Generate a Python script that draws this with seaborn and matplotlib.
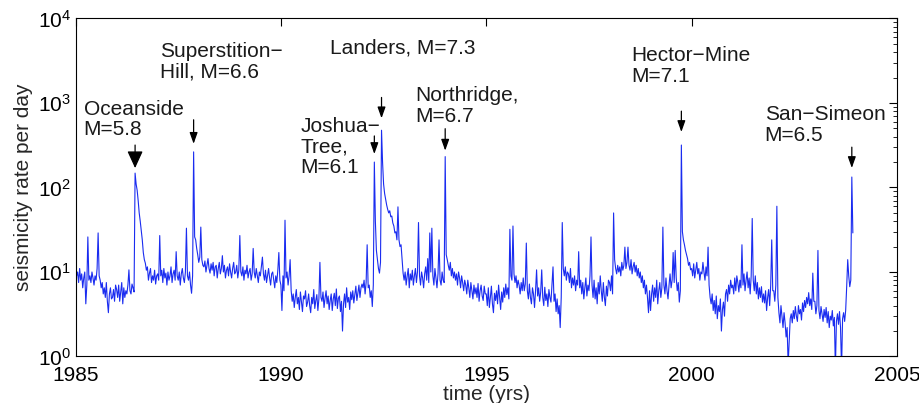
import numpy as np
import pandas as pd
import matplotlib
matplotlib.use("Agg")
import matplotlib.pyplot as plt
import seaborn as sns
from matplotlib.ticker import LogLocator, NullLocator

# ---- data (0.025-yr steps from 1985.000) ----
rate = [
    # 1985
    14, 9, 10, 7.5, 11, 8, 9.5, 6.5, 8.5, 10,
    4.2, 7, 26, 8, 9, 7.5, 10, 8.5, 7, 9,
    8, 11, 29, 9, 8, 6.5, 7.5, 5.5, 6.5, 5,
    7.5, 4.5, 3.3, 5.5, 6.5, 4.8, 5, 6.2, 4.5, 7,
    # 1986
    6.2, 5, 7, 4.5, 5.8, 7.5, 4.2, 6.5, 5, 6,
    5.5, 7, 10.6, 6, 5.5, 7.2, 6.5, 5.8, 148, 110,
    93, 70, 50, 40, 31, 24, 17, 14, 12.7, 10.5,
    11.5, 8, 9.7, 11, 7.5, 9, 8, 10.5, 7.2, 9,
    # 1987
    9.5, 8, 27, 9, 10.5, 7.5, 11, 8.5, 9.7, 7,
    10, 8, 9, 11.5, 7.5, 9.5, 10.5, 8, 17.4, 9,
    8, 10, 7, 9.5, 11, 8.5, 7.5, 10, 33, 9,
    8, 10, 7, 5.6, 9, 264, 26, 24, 19, 16,
    # 1988
    13, 15, 34, 14, 12, 11.5, 13.5, 10, 12, 14.4,
    11, 9.7, 12.5, 10.5, 13, 9, 11.5, 12, 8.5, 11,
    13, 9.5, 11, 15.6, 10, 12, 8.5, 10.5, 11.5, 9,
    12.5, 10, 8.5, 11, 13, 9.5, 10, 12, 8.5, 10.5,
    # 1989
    27, 10, 9, 11.5, 8, 10.5, 9.5, 12, 8.5, 10,
    11, 8, 9.5, 19, 10, 8.5, 11, 9, 7.5, 10,
    9, 11.5, 15, 9.5, 8, 10.5, 7.5, 9, 11, 8.5,
    7, 9.5, 10, 8, 6.5, 9, 7.5, 10.5, 17, 8,
    # 1990
    7, 3.5, 9, 6, 41, 8.5, 10, 7, 9, 14,
    6, 4.5, 5.5, 3.8, 5, 6.2, 4.2, 5, 3.6, 5.8,
    4.5, 3.4, 5.2, 4.8, 6, 3.9, 4.4, 5.5, 4, 3.3,
    5, 4.2, 6.2, 3.7, 4.6, 5.4, 3.5, 4.8, 13, 5,
    # 1991
    4.5, 5.8, 3.8, 4.9, 6, 4.2, 5.2, 3.6, 4.6, 5.5,
    3.5, 4.8, 5.6, 4, 6.3, 3.7, 4.9, 5.2, 3.4, 4.5,
    2.0, 4.2, 5.5, 3.8, 6.5, 4.4, 5, 3.6, 5.8, 4.7,
    6, 4.3, 5.4, 6.8, 4.6, 5.7, 7, 5, 6.5, 7.2,
    # 1992
    6.5, 8, 5.5, 7.5, 21, 6.5, 7, 5, 6, 3.9,
    7, 200, 40, 18, 14, 11, 9.7, 13, 476, 200,
    110, 85, 72, 62, 55, 50, 53, 45, 46, 38,
    35, 29, 30, 24, 59, 24, 20, 21, 14, 9.7,
    # 1993
    8, 10, 7, 9, 11, 6.5, 9.5, 8, 10.5, 7,
    9, 11, 7.5, 10, 38.5, 9, 7, 10, 8.5, 6.5,
    9.5, 11.5, 8, 14.4, 7.5, 29, 10, 33, 9, 7,
    11, 8.5, 6.5, 9.5, 24, 8, 7, 10, 8, 7.5,
    # 1994
    232, 16, 14, 12, 10.5, 13, 9, 11, 8.5, 10,
    8, 9.5, 7, 10, 8.5, 6.5, 9, 7.5, 6, 8,
    7, 5.5, 8, 6.5, 5, 7.5, 6, 4.8, 7, 5.5,
    6.5, 5, 7.3, 4.5, 6, 7, 5.2, 4.6, 6.8, 5.5,
    # 1995
    5.5, 4, 6.5, 3.8, 5, 6.8, 4.2, 3.3, 5.6, 4.6,
    6, 4.2, 7, 5, 3.6, 5.8, 4.4, 6.5, 5, 7.2,
    5.4, 6.5, 4.8, 32, 9, 8, 35, 9.5, 7.5, 9,
    6.5, 8, 7, 5.5, 7.5, 6, 8.5, 6, 7.2, 22,
    # 1996
    6, 4.8, 7.2, 5, 4.2, 6.5, 5.5, 3.8, 6, 10.6,
    5.2, 6.5, 4.5, 5.8, 10.6, 5, 4, 6.6, 4.6, 5.5,
    3.9, 6.2, 5, 4.4, 7, 11.5, 4.5, 5.5, 3.4, 4.8,
    3.2, 4, 2.2, 5, 38.5, 11, 9, 11.5, 8, 10,
    # 1997
    9.5, 7.5, 11, 6.5, 8.5, 7, 9, 6, 8, 7,
    17.4, 6.5, 8, 5.5, 7.5, 4.8, 6.5, 8.5, 5.2, 7,
    6, 9, 26, 7, 5, 8, 4.8, 6.5, 4.2, 7.5,
    5.5, 9, 6, 4.5, 7.5, 5, 4, 6.8, 5.2, 8,
    # 1998
    7.5, 6, 9, 5.5, 50, 14, 11, 9.5, 12, 10,
    11.5, 9, 13, 10.5, 12, 19.7, 11, 13, 19.7, 12,
    10.5, 14, 9.5, 11.5, 13, 10, 12, 9, 11, 8.5,
    10, 7.5, 9, 6.5, 8, 5.5, 7, 5, 3.3, 6,
    # 1999
    3.5, 5.5, 7, 4.5, 6.5, 5, 8, 4.2, 6, 7.5,
    5, 6.5, 34, 7, 5.5, 8.5, 6, 4.8, 7, 9.5,
    6.5, 8, 17, 7.5, 18, 8.5, 6, 7.5, 4.4, 6,
    318, 30, 24, 21, 18, 16, 14.4, 12, 13, 10.6,
    # 2000
    11, 9, 12.5, 8.5, 10.6, 13, 9.5, 11, 8, 10,
    9.5, 13, 10, 8, 11.5, 9, 19.7, 7, 5, 4.2,
    5.5, 3.5, 4.6, 3.2, 5.2, 2.8, 4, 3.4, 4.8, 2.0,
    3.6, 4.4, 3, 5.5, 6.2, 4.5, 7, 5.5, 8, 6.5,
    # 2001
    7, 5.5, 8.5, 6, 9, 7.5, 5.8, 8, 6.5, 21,
    7, 9.5, 6, 8, 10, 6.5, 8.5, 5.5, 9, 43,
    8, 6, 9, 5.5, 7.5, 4.8, 6.5, 5, 6.7, 4.4,
    5.5, 4.3, 6, 3.5, 5, 6.2, 4, 7, 24, 6,
    # 2002
    6, 4.5, 7, 60, 5, 3.3, 2.5, 4, 3, 2.2,
    3.3, 2.5, 1.7, 2.2, 0.8, 1.5, 2.8, 3.2, 2.5, 3.5,
    2.8, 3.9, 3, 2.6, 4, 3.2, 3.6, 2.7, 4.3, 3.4,
    4.6, 3.8, 5, 4.2, 5.7, 4, 4.8, 3.6, 9.7, 4.5,
    # 2003
    4.5, 3.2, 4, 18, 3.5, 2.8, 3.9, 3.2, 2.6, 3.6,
    2.9, 3.8, 2.5, 3.4, 2.2, 3, 2.7, 3.5, 2.3, 2.9,
    0.7, 2.6, 3.2, 2.4, 3.4, 2.2, 0.7, 2.8, 3.3, 2.6,
    3.5, 6.7, 14, 9, 6.7, 8, 133, 29,
]
start_year = 1985.0
step_year = 0.025
years = np.round(start_year + step_year * np.arange(len(rate)), 3)

event_labels = ["Oceanside\nM=5.8", "Superstition\u2212\nHill, M=6.6", "Joshua\u2212\nTree,\nM=6.1",
                "Landers, M=7.3", "Northridge,\nM=6.7", "Hector\u2212Mine\nM=7.1", "San\u2212Simeon\nM=6.5"]
event_years = [1986.45, 1987.875, 1992.275, 1992.45, 1994.00, 1999.75, 2003.90]

x_ticks = [1985, 1990, 1995, 2000, 2005]

# ---- layout / style ----
label_pos = [(0.010, 0.701), (0.103, 0.873), (0.274, 0.620), (0.310, 0.913),
             (0.414, 0.741), (0.677, 0.859), (0.839, 0.685)]
arrow_gap_len = [(3.6, 16.6), (5.8, 17.3), (5.8, 13.0), (8.6, 15.0),
                 (4.3, 15.8), (9.4, 15.0), (6.5, 15.0)]
big_head = [True, False, False, False, False, False, False]

sns.set_style("white")
plt.rcParams["font.family"] = ["Liberation Sans", "DejaVu Sans"]
plt.rcParams["mathtext.fontset"] = "custom"
plt.rcParams["mathtext.rm"] = "Liberation Sans"
plt.rcParams["mathtext.it"] = "Liberation Sans"
plt.rcParams["mathtext.bf"] = "Liberation Sans:bold"

fig = plt.figure(figsize=(9.2, 4.03), dpi=100)
ax = fig.add_axes([0.0821, 0.1154, 0.8929, 0.8387])

df = pd.DataFrame({"year": years, "rate": rate})
sns.lineplot(data=df, x="year", y="rate", ax=ax, color="#1a2cf0",
             linewidth=0.8, estimator=None)

ax.set_yscale("log")
ax.set_xlim(1985, 2005)
ax.set_ylim(1, 1e4)
ax.set_xticks(x_ticks)
ax.xaxis.set_minor_locator(NullLocator())
ax.yaxis.set_major_locator(LogLocator(base=10, numticks=10))
ax.yaxis.set_minor_locator(LogLocator(base=10, subs=np.arange(2, 10), numticks=50))
ax.tick_params(which="both", direction="in", top=True, right=True,
               labelsize=15, colors="black")
ax.tick_params(which="major", length=6, width=0.8)
ax.tick_params(which="minor", length=3, width=0.6)
ax.tick_params(axis="x", pad=7)
for s in ax.spines.values():
    s.set_color("black")
    s.set_linewidth(0.8)

ax.set_xlabel("time (yrs)", fontsize=15, labelpad=0)
ax.set_ylabel("seismicity rate per day", fontsize=15, labelpad=3)

for lab, ey, (tx, ty), (gap, length), big in zip(event_labels, event_years,
                                                  label_pos, arrow_gap_len, big_head):
    i = int(np.argmin(np.abs(years - ey)))
    peak = rate[i]
    if big:
        style = "-|>,head_length=0.7,head_width=0.32"
    else:
        style = "-|>,head_length=0.45,head_width=0.16"
    ax.annotate("", xy=(years[i], peak), xytext=(0, gap + length),
                textcoords="offset points",
                arrowprops=dict(arrowstyle=style, color="black", lw=0.9,
                                shrinkA=0, shrinkB=gap, mutation_scale=15))
    ax.text(tx, ty, lab, transform=ax.transAxes, fontsize=15, ha="left",
            va="center", linespacing=1.1, color="#1a1a1a")

fig.savefig("out.png", dpi=100, facecolor="white")
